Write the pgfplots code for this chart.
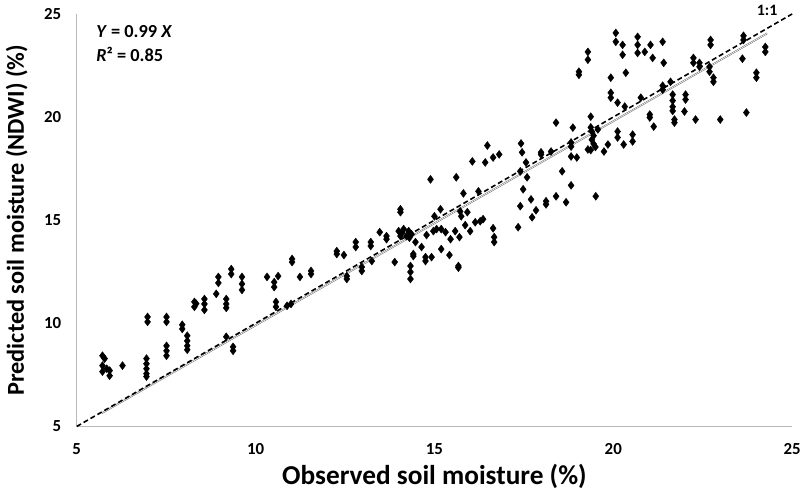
\documentclass[border=0pt]{standalone}
\usepackage{pgfplots}
\pgfplotsset{compat=1.18}
\usepackage{fontspec}
\setmainfont{Carlito}
\begin{document}
\begin{tikzpicture}
\begin{axis}[
  scale only axis,
  width=718bp, height=414bp,
  xmin=5, xmax=25, ymin=5, ymax=25,
  xtick={5,10,15,20,25}, ytick={5,10,15,20,25},
  axis x line*=bottom, axis y line*=left,
  axis line style={draw=black!28, line width=1bp},
  major tick length=0pt,
  /pgf/number format/assume math mode=true,
  ticklabel style={font=\bfseries\fontsize{17}{17}\selectfont},
  xticklabel style={yshift=-14bp},
  yticklabel style={xshift=-12bp},
  xlabel={Observed soil moisture (\%)},
  ylabel={Predicted soil moisture (NDWI) (\%)},
  xlabel style={font=\bfseries\fontsize{27.5}{27.5}\selectfont, at={(axis description cs:0.5,-0.121)}, anchor=center},
  ylabel style={font=\bfseries\fontsize{24.5}{24.5}\selectfont, at={(axis description cs:-0.084,0.5)}, anchor=center, rotate=0},
  clip=false,
]
\addplot[only marks, mark=diamond*, mark size=4bp, black] table {
x y
5.72 8.43
5.78 8.29
5.72 7.95
5.84 7.80
5.72 7.66
5.92 7.46
5.92 7.71
6.28 7.95
6.95 8.29
6.95 8.04
6.95 7.80
6.95 7.56
6.95 7.42
6.98 10.31
6.98 10.07
7.51 10.31
7.51 10.07
7.51 8.91
7.51 8.67
7.51 8.43
7.95 9.93
7.95 9.73
8.09 9.40
8.09 9.15
8.09 8.91
8.09 8.72
8.29 11.04
8.29 10.80
8.34 10.95
8.57 11.18
8.57 10.94
8.57 10.65
8.90 11.43
8.96 12.25
8.96 11.96
9.32 12.63
9.32 12.39
9.62 12.25
9.62 11.91
9.62 11.62
9.18 11.18
9.18 10.94
9.18 10.75
9.18 9.35
9.37 8.86
9.37 8.67
10.32 12.25
10.63 12.29
10.52 12.00
10.52 11.76
10.57 11.04
10.57 10.80
10.88 10.85
10.99 10.94
11.02 13.12
11.02 12.97
11.24 12.25
11.55 12.54
11.55 12.39
12.27 13.50
12.27 13.36
12.47 13.31
12.55 12.29
12.55 12.15
12.80 13.94
12.80 13.70
12.97 12.73
12.97 12.54
13.22 13.94
13.22 13.75
13.25 13.02
13.47 14.42
13.66 14.23
13.66 14.08
13.89 12.97
14.05 15.53
14.05 15.39
14.00 14.47
14.14 14.57
14.28 14.47
14.36 14.32
14.05 14.23
14.22 14.23
14.10 14.40
14.30 14.15
14.33 12.78
14.33 12.49
14.33 12.15
14.41 13.36
14.41 13.26
14.47 13.94
14.64 13.70
14.75 13.21
14.75 13.02
14.78 14.28
14.89 16.98
14.92 13.21
14.97 14.47
15.00 15.19
15.06 14.57
15.17 15.53
15.19 14.57
15.19 13.60
15.31 14.42
15.42 13.31
15.45 14.08
15.58 14.47
15.61 17.08
15.67 12.78
15.67 12.70
15.70 14.18
15.72 15.43
15.75 15.19
15.81 16.30
15.86 14.76
15.92 15.39
16.00 14.47
16.06 17.85
16.14 14.90
16.23 16.40
16.28 14.95
16.36 15.05
16.42 17.80
16.48 18.62
16.64 14.61
16.67 14.18
16.67 13.94
16.64 18.04
16.81 18.19
17.34 14.66
17.40 15.68
17.48 16.50
17.56 17.80
17.59 17.08
17.42 18.72
17.45 18.29
17.40 17.37
17.70 16.01
17.73 15.14
17.84 15.48
18.12 15.92
18.12 15.77
18.40 16.16
18.57 17.37
18.68 15.87
18.82 16.69
17.98 18.29
17.98 18.19
18.26 18.33
18.40 19.73
18.82 18.77
18.82 18.57
18.82 18.09
18.87 19.49
18.98 18.04
19.04 22.20
19.04 22.05
19.29 23.16
19.29 22.78
19.29 18.43
19.37 20.02
19.37 19.50
19.40 19.30
19.45 19.10
19.40 18.90
19.45 18.70
19.50 18.55
19.37 18.40
19.51 16.16
19.57 19.40
19.74 18.33
19.85 18.67
19.93 21.91
19.93 21.18
19.93 20.94
20.07 24.08
20.07 23.65
20.12 20.70
20.12 19.30
20.12 19.01
20.26 23.50
20.26 23.02
20.29 18.67
20.32 20.51
20.35 22.15
20.54 19.15
20.54 18.82
20.68 23.89
20.68 23.50
20.68 23.11
20.77 20.94
20.88 23.16
21.02 20.12
21.02 19.98
21.04 23.50
21.10 22.87
21.13 19.54
21.38 23.65
21.41 22.63
21.38 21.52
21.38 21.33
21.60 21.71
21.66 21.09
21.66 20.80
21.66 20.50
21.66 20.30
21.71 19.88
21.71 19.73
21.99 20.27
22.02 21.09
22.02 20.85
22.24 22.87
22.24 22.63
22.30 19.88
22.41 22.63
22.41 22.44
22.69 22.44
22.69 22.20
22.72 23.74
22.72 23.50
22.80 21.91
22.80 21.71
22.99 19.88
23.61 22.83
23.64 23.94
23.64 23.74
23.72 20.22
24.00 22.15
24.00 21.91
24.25 23.40
24.25 23.16
};
\addplot[draw=black!60, line width=0.5bp, double=white, double distance=0.6bp] coordinates {(5.7,5.643) (24.3,24.057)};
\addplot[black, line width=1.6bp, dash pattern=on 5bp off 3bp] coordinates {(5,5) (25,25)};
\node[anchor=west, font=\bfseries\fontsize{18.5}{18.5}\selectfont] at (axis cs:5.45,24.13) {\textit{Y} = 0.99 \textit{X}};
\node[anchor=west, font=\bfseries\fontsize{18.5}{18.5}\selectfont] at (axis cs:5.45,23.02) {\textit{R}² = 0.85};
\node[font=\bfseries\fontsize{16}{16}\selectfont] at (axis cs:24.30,25.15) {1:1};
\end{axis}
\path (current axis.south west) ++(-77bp,-63bp);
\path (current axis.north east) ++(9bp,14bp);
\end{tikzpicture}
\end{document}
